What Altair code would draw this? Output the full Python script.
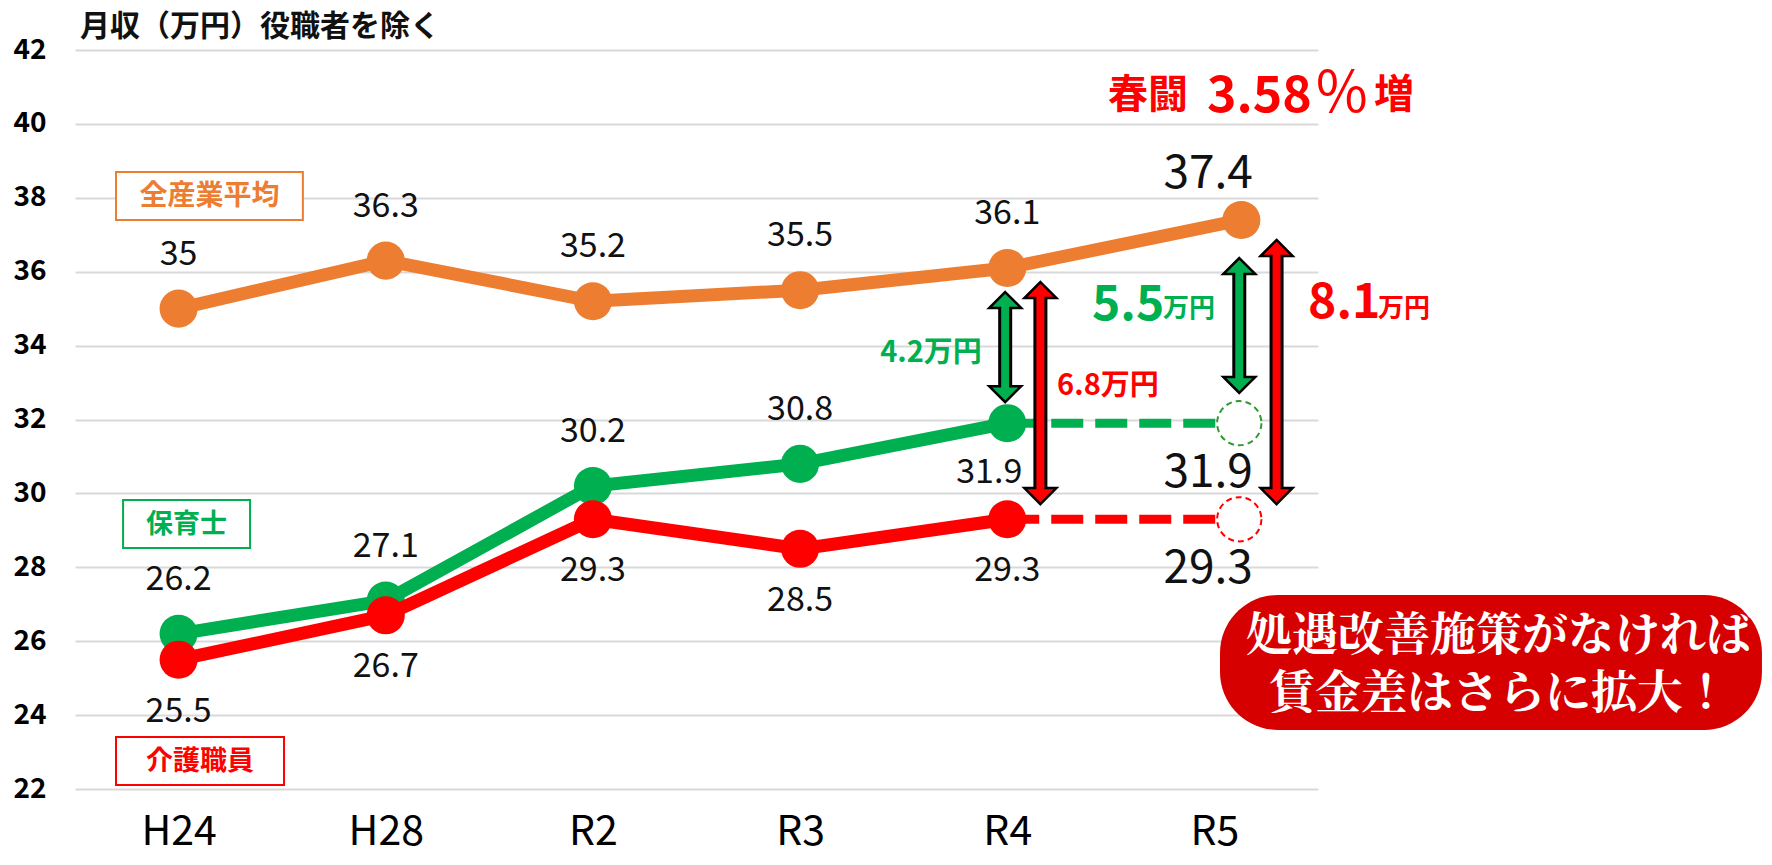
import json
import altair as alt
import pandas as pd

# ---------------- data ----------------
categories = ["H24", "H28", "R2", "R3", "R4", "R5"]
all_industry = [35.0, 36.3, 35.2, 35.5, 36.1, 37.4]   # 全産業平均
hoikushi = [26.2, 27.1, 30.2, 30.8, 31.9]             # 保育士 (H24..R4)
kaigo = [25.5, 26.7, 29.3, 28.5, 29.3]                # 介護職員 (H24..R4)

series_names = ["全産業平均", "保育士", "介護職員"]
title_text = "月収（万円）役職者を除く"
callout_lines = ["処遇改善施策がなければ", "賃金差はさらに拡大！"]
shunto_parts = ["春闘", "3.58", "％", "増"]
unit = "万円"

# label placement per point
orange_place = ["above"] * 5
green_place = ["above", "above", "above", "above", "below"]
red_place = ["below"] * 5

# ---------------- styles ----------------
FONT = "Noto Sans CJK JP"
ORANGE, GREEN, RED = "#ED7D31", "#00B050", "#FF0000"
DASH_GREEN = "#339933"
BOX_RED = "#D60000"
W, H = 1243, 739
R5_SHIFT = 0.13      # the R5 marks sit slightly right of the category centre
HEAD = 0.43          # arrow-head length in value units

XS = alt.Scale(domain=[-0.5, 5.5], nice=False, zero=False)
YS = alt.Scale(domain=[22, 42], nice=False, zero=False)
label_expr = json.dumps(categories) + "[datum.value]"
XAXIS = alt.Axis(values=list(range(len(categories))), labelExpr=label_expr, grid=False,
                 domain=False, ticks=False, labelFontSize=41, labelFont=FONT,
                 labelColor="#000000", labelPadding=23, title=None,
                 labelFlush=False, labelOverlap=False, labelBound=False)
YAXIS = alt.Axis(values=list(range(22, 43, 2)), grid=True, gridColor="#D9D9D9",
                 gridWidth=2, domain=False, ticks=False, labelFontSize=28,
                 labelFontWeight="bold", labelFont=FONT, labelColor="#000000",
                 labelPadding=29, title=None)


def X(f="x"):
    return alt.X(f"{f}:Q", scale=XS, axis=XAXIS)


def Y(f="y"):
    return alt.Y(f"{f}:Q", scale=YS, axis=YAXIS)


layers = []

# ---------------- series ----------------
orange_x = [float(i) for i in range(len(all_industry))]
orange_x[-1] = 5 + R5_SHIFT
orange_df = pd.DataFrame({"x": orange_x, "y": all_industry})
green_df = pd.DataFrame({"x": list(range(len(hoikushi))), "y": hoikushi})
red_df = pd.DataFrame({"x": list(range(len(kaigo))), "y": kaigo})

# projection (dashed) lines from R4 to R5
proj_df = pd.DataFrame({
    "x": [4, 4], "x2": [5 + R5_SHIFT - 0.01] * 2,
    "y": [hoikushi[-1], kaigo[-1]], "c": [GREEN, RED]})
layers.append(alt.Chart(proj_df).mark_rule(strokeWidth=9, strokeDash=[32, 12],
                                          strokeCap="butt").encode(
    x=X(), x2=alt.X2("x2"), y=Y(), color=alt.Color("c:N", scale=None)))

for df, col in [(orange_df, ORANGE), (green_df, GREEN), (red_df, RED)]:
    layers.append(alt.Chart(df).mark_line(color=col, strokeWidth=13).encode(x=X(), y=Y()))
    layers.append(alt.Chart(df).mark_circle(color=col, size=1450, opacity=1).encode(x=X(), y=Y()))

# dashed open circles at R5
circ_df = pd.DataFrame({"x": [5 + R5_SHIFT - 0.01] * 2,
                        "y": [hoikushi[-1], kaigo[-1]], "c": [DASH_GREEN, RED]})
layers.append(alt.Chart(circ_df).mark_point(shape="circle", size=1960, filled=False,
                                            fill="white", fillOpacity=1, strokeWidth=2,
                                            strokeDash=[6, 4], opacity=1).encode(
    x=X(), y=Y(), stroke=alt.Stroke("c:N", scale=None)))

# ---------------- arrows ----------------
arr_df = pd.DataFrame({
    "x": [3.99, 4.16, 5 + R5_SHIFT - 0.01, 5.30],
    "top": [35.45, 35.72, 36.37, 36.86],
    "bot": [32.47, 29.71, 32.72, 29.71],
    "c": [GREEN, RED, GREEN, RED]})
arr_df["s_top"] = arr_df["top"] - HEAD
arr_df["s_bot"] = arr_df["bot"] + HEAD
arr_df["i_top"] = arr_df["top"] - HEAD * 0.7
arr_df["i_bot"] = arr_df["bot"] + HEAD * 0.7
layers.append(alt.Chart(arr_df).mark_rule(color="black", strokeWidth=14, strokeCap="butt").encode(
    x=X(), y=Y("s_bot"), y2=alt.Y2("s_top")))
UP = "M0,0L1,1L-1,1Z"
DOWN = "M0,0L1,-1L-1,-1Z"
for shape, fld in [(UP, "top"), (DOWN, "bot")]:
    layers.append(alt.Chart(arr_df).mark_point(shape=shape, size=1024, filled=True,
                                               stroke="black", strokeWidth=2.5,
                                               opacity=1, fillOpacity=1).encode(
        x=X(), y=Y(fld), fill=alt.Fill("c:N", scale=None)))
layers.append(alt.Chart(arr_df).mark_rule(strokeWidth=8, strokeCap="butt").encode(
    x=X(), y=Y("i_bot"), y2=alt.Y2("i_top"), color=alt.Color("c:N", scale=None)))

# ---------------- value labels ----------------
lab_rows = []
for key, vals, places in [("o", all_industry[:5], orange_place), ("g", hoikushi, green_place),
                          ("r", kaigo, red_place)]:
    for i, (v, p) in enumerate(zip(vals, places)):
        lab_rows.append({"x": i, "y": v, "t": f"{v:g}", "p": p,
                         "k": "left" if (key == "g" and p == "below") else p})
lab_df = pd.DataFrame(lab_rows)
for k, dy, dx in [("above", -44, 0), ("below", 62, 0), ("left", 60, -18)]:
    layers.append(alt.Chart(lab_df[lab_df.k == k]).mark_text(
        fontSize=34, font=FONT, color="#111111", dy=dy, dx=dx, baseline="alphabetic").encode(
        x=X(), y=Y(), text="t:N"))

r5_df = pd.DataFrame({"x": [4.97] * 3, "y": [all_industry[-1], hoikushi[-1], kaigo[-1]],
                      "t": [f"{all_industry[-1]:g}", f"{hoikushi[-1]:g}", f"{kaigo[-1]:g}"],
                      "dy": [-32, 64, 64]})
for dy in [-32, 64]:
    layers.append(alt.Chart(r5_df[r5_df.dy == dy]).mark_text(
        fontSize=46, font=FONT, color="#111111", dy=dy, baseline="alphabetic").encode(
        x=X(), y=Y(), text="t:N"))

# ---------------- series name boxes ----------------
box_df = pd.DataFrame({
    "x": [-0.302, -0.268, -0.302], "x2": [0.600, 0.345, 0.509],
    "y": [38.70, 29.82, 23.41], "y2": [37.40, 28.52, 22.11],
    "tx": [0.149, 0.038, 0.103], "ty": [38.05, 29.17, 22.76],
    "t": series_names, "c": [ORANGE, GREEN, RED], "fs": [28, 27, 27]})
layers.append(alt.Chart(box_df).mark_rect(fill="white", strokeWidth=2).encode(
    x=X(), x2=alt.X2("x2"), y=Y(), y2=alt.Y2("y2"), stroke=alt.Stroke("c:N", scale=None)))
layers.append(alt.Chart(box_df).mark_text(fontWeight="bold", font=FONT, baseline="middle",
                                          dy=1).encode(
    x=X("tx"), y=Y("ty"), text="t:N", color=alt.Color("c:N", scale=None),
    size=alt.Size("fs:Q", scale=None)))

# ---------------- gap annotations ----------------
g42 = round(all_industry[4] - hoikushi[-1], 1)
g68 = round(all_industry[4] - kaigo[-1], 1)
g55 = round(all_industry[5] - hoikushi[-1], 1)
g81 = round(all_industry[5] - kaigo[-1], 1)
small_df = pd.DataFrame({"x": [3.632, 4.486], "y": [33.56, 32.66],
                         "t": [f"{g42}{unit}", f"{g68}{unit}"], "c": [GREEN, RED]})
layers.append(alt.Chart(small_df).mark_text(fontSize=29, fontWeight="bold", font=FONT,
                                            baseline="alphabetic").encode(
    x=X(), y=Y(), text="t:N", color=alt.Color("c:N", scale=None)))
big_df = pd.DataFrame({"x": [4.409, 5.452], "y": [34.69, 34.75],
                       "t": [f"{g55}", f"{g81}"], "c": [GREEN, RED]})
layers.append(alt.Chart(big_df).mark_text(fontSize=48, fontWeight="bold", font=FONT,
                                          baseline="alphabetic", align="left").encode(
    x=X(), y=Y(), text="t:N", color=alt.Color("c:N", scale=None)))
unit_df = pd.DataFrame({"x": [4.752, 5.79], "y": [34.77, 34.77], "t": [unit, unit],
                        "c": [GREEN, RED]})
layers.append(alt.Chart(unit_df).mark_text(fontSize=26, fontWeight="bold", font=FONT,
                                           baseline="alphabetic", align="left").encode(
    x=X(), y=Y(), text="t:N", color=alt.Color("c:N", scale=None)))

# ---------------- 春闘 3.58％増 ----------------
sh_df = pd.DataFrame({"x": [4.486, 4.964, 5.48, 5.77], "y": [40.43, 40.32, 40.32, 40.43],
                      "t": shunto_parts, "fs": [40, 50, 56, 40],
                      "fw": ["bold", "bold", "normal", "bold"]})
for fw in ["bold", "normal"]:
    layers.append(alt.Chart(sh_df[sh_df.fw == fw]).mark_text(
        fontWeight=fw, font=FONT, color=RED, baseline="alphabetic", align="left").encode(
        x=X(), y=Y(), text="t:N", size=alt.Size("fs:Q", scale=None)))

# ---------------- title ----------------
title_df = pd.DataFrame({"x": [-0.476], "y": [42.63], "t": [title_text]})
layers.append(alt.Chart(title_df).mark_text(fontSize=30, fontWeight="bold", font=FONT,
                                            color="#111111", align="left",
                                            baseline="middle").encode(
    x=X(), y=Y(), text="t:N"))

# ---------------- callout box ----------------
call_df = pd.DataFrame({"x": [5.027], "x2": [7.643], "y": [27.25], "y2": [23.60]})
layers.append(alt.Chart(call_df).mark_rect(fill=BOX_RED, cornerRadius=58).encode(
    x=X(), x2=alt.X2("x2"), y=Y(), y2=alt.Y2("y2")))
call_txt = pd.DataFrame({"x": [6.374], "y": [26.13], "t": ["\n".join(callout_lines)]})
layers.append(alt.Chart(call_txt).mark_text(
    fontSize=46, font="Noto Serif CJK JP, " + FONT, fontWeight="bold", color="white",
    baseline="middle", lineBreak="\n", lineHeight=58).encode(x=X(), y=Y(), text="t:N"))

chart = alt.layer(*layers).properties(
    width=W, height=H,
    autosize=alt.AutoSizeParams(type="none"),
    padding={"left": 67, "top": 42, "right": 446, "bottom": 68},
).configure_view(stroke=None)

chart.save("out.html", embed_options={"renderer": "svg", "actions": False})
